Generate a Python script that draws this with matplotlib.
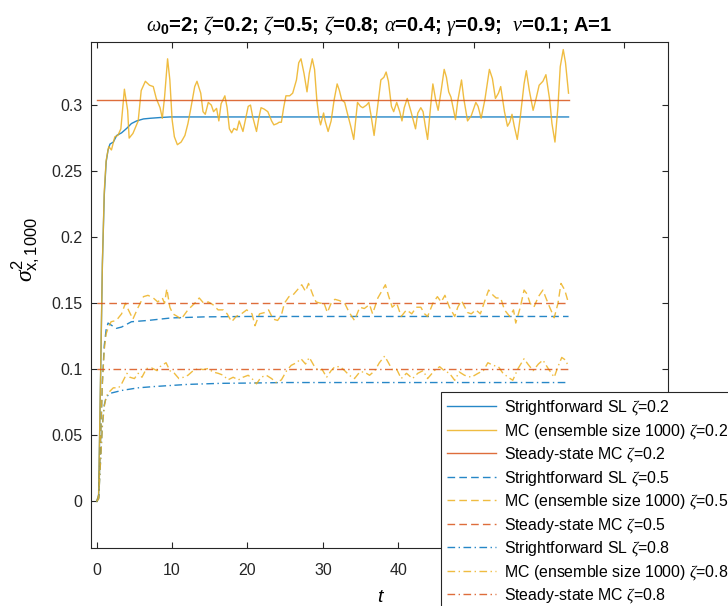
import numpy as np
import matplotlib
matplotlib.use("Agg")
import matplotlib.pyplot as plt

plt.rcParams["font.family"] = ["Liberation Sans", "DejaVu Sans"]
plt.rcParams["mathtext.fontset"] = "custom"
plt.rcParams["mathtext.rm"] = "Liberation Sans"
plt.rcParams["mathtext.it"] = "Liberation Serif:italic"
plt.rcParams["mathtext.bf"] = "Liberation Sans:bold"

# ---- datos ----
T_END = 62.6

# zeta = 0.2
t_sl02 = [0, 0.25, 0.5, 0.75, 1.0, 1.25, 1.5, 1.76, 2.2, 2.65, 3.3, 4.0, 4.6, 5.3, 6.2, 7.1,
          8.5, 9.7, 15, T_END]
v_sl02 = [0, 0.005, 0.09, 0.18, 0.232, 0.257, 0.266, 0.2705, 0.272, 0.277, 0.279, 0.2825,
          0.286, 0.288, 0.2895, 0.290, 0.2906, 0.291, 0.291, 0.291]

t_mc02 = [0, 0.25, 0.5, 0.75, 1.0, 1.25, 1.5, 1.6, 1.95, 2.4, 2.8, 3.2, 3.67, 4.1, 4.3, 4.8, 5.5,
          5.9, 6.45, 7.0, 7.5, 7.9, 8.4, 8.7, 9.0, 9.4, 9.7, 10.0, 10.3, 10.7, 11.2, 11.7, 12.1,
          12.5, 13.0, 13.3, 13.8, 14.1, 14.4, 14.8, 15.2, 15.5, 15.9, 16.2, 16.5, 17.0, 17.3,
          17.6, 17.9, 18.2, 18.6, 18.9, 19.4, 19.7, 20.1, 20.4, 20.7, 21.2, 21.5, 21.8, 22.2,
          22.7, 23.2, 23.5, 23.95, 24.2, 24.5, 24.8, 25.1, 25.6, 26.0, 26.5, 26.8, 27.1, 27.5,
          27.9, 28.2, 28.6, 28.9, 29.2, 29.5, 29.7, 30.1, 30.3, 30.7, 31.1, 31.5, 31.9, 32.2,
          32.5, 32.9, 33.2, 33.7, 34.1, 34.4, 34.6, 35.0, 35.3, 35.8, 36.1, 36.4, 36.8, 37.1,
          37.4, 37.7, 38.1, 38.4, 38.7, 39.1, 39.4, 39.8, 40.2, 40.5, 40.8, 41.2, 41.7, 42.3,
          42.6, 43.0, 43.3, 43.6, 43.9, 44.3, 44.6, 45.0, 45.3, 45.7, 46.1, 46.4, 46.7, 47.0,
          47.6, 47.9, 48.4, 48.7, 49.2, 49.7, 50.3, 50.6, 51.0, 51.5, 52.1, 52.5, 52.9, 53.3,
          53.6, 54.1, 54.5, 54.8, 55.1, 55.4, 55.8, 56.2, 56.7, 57.0, 57.4, 57.9, 58.3, 58.7,
          59.2, 59.6, 60.1, 60.4, 60.8, 61.2, 61.5, 61.9, 62.2, 62.6]
v_mc02 = [0, 0.005, 0.09, 0.18, 0.235, 0.258, 0.266, 0.2686, 0.266, 0.276, 0.277, 0.282, 0.312,
          0.296, 0.275, 0.2785, 0.288, 0.311, 0.318, 0.315, 0.314, 0.305, 0.298, 0.290, 0.306,
          0.335, 0.319, 0.289, 0.276, 0.270, 0.272, 0.277, 0.286, 0.298, 0.314, 0.318, 0.309,
          0.295, 0.293, 0.302, 0.300, 0.295, 0.2975, 0.288, 0.301, 0.307, 0.298, 0.282, 0.279,
          0.2823, 0.281, 0.288, 0.280, 0.288, 0.299, 0.300, 0.291, 0.280, 0.290, 0.298, 0.297,
          0.295, 0.288, 0.285, 0.286, 0.287, 0.287, 0.298, 0.307, 0.307, 0.309, 0.319, 0.332,
          0.335, 0.324, 0.310, 0.324, 0.335, 0.327, 0.304, 0.290, 0.285, 0.294, 0.288, 0.280,
          0.288, 0.304, 0.316, 0.311, 0.304, 0.302, 0.295, 0.284, 0.274, 0.291, 0.302, 0.299,
          0.298, 0.300, 0.302, 0.292, 0.277, 0.291, 0.305, 0.319, 0.321, 0.325, 0.318, 0.299,
          0.295, 0.302, 0.295, 0.288, 0.298, 0.305, 0.295, 0.282, 0.294, 0.298, 0.295, 0.284,
          0.274, 0.299, 0.316, 0.303, 0.296, 0.311, 0.327, 0.321, 0.310, 0.306, 0.289, 0.303,
          0.319, 0.305, 0.288, 0.292, 0.302, 0.299, 0.290, 0.304, 0.327, 0.320, 0.305, 0.309,
          0.314, 0.295, 0.284, 0.287, 0.293, 0.284, 0.274, 0.291, 0.316, 0.326, 0.311, 0.296,
          0.305, 0.315, 0.318, 0.323, 0.304, 0.286, 0.272, 0.299, 0.329, 0.342, 0.332, 0.309]

ss02 = 0.304

# zeta = 0.5
t_sl05 = [0, 0.25, 0.5, 0.75, 1.0, 1.25, 1.5, 2.6, 3.3, 4.6, 6.8, 9.9, 14.3, 20, T_END]
v_sl05 = [0, 0.003, 0.045, 0.09, 0.118, 0.13, 0.135, 0.131, 0.132, 0.136, 0.137, 0.1389,
          0.1397, 0.140, 0.140]

t_mc05 = [0, 0.25, 0.5, 0.75, 1.0, 1.25, 1.5, 1.9, 2.6, 3.3, 3.8, 4.2, 4.8, 5.5, 6.2, 6.8, 7.5,
          8.1, 8.7, 9.0, 9.3, 9.7, 10.1, 10.7, 11.2, 12.1, 13.0, 13.6, 14.2, 14.8, 15.4, 16.1,
          16.8, 17.3, 17.9, 18.5, 19.2, 19.9, 20.6, 21.0, 21.6, 22.3, 22.8, 23.4, 24.0, 24.5,
          24.9, 25.5, 26.0, 26.6, 27.2, 27.7, 28.1, 28.7, 29.1, 29.7, 30.1, 30.6, 31.1, 31.6,
          32.2, 32.9, 33.5, 34.2, 34.9, 35.5, 36.2, 36.6, 37.3, 37.9, 38.3, 38.7, 39.2, 39.8,
          40.4, 41.1, 41.8, 42.4, 43.0, 43.5, 43.9, 44.6, 45.2, 45.7, 46.2, 46.8, 47.5, 47.9,
          48.4, 49.2, 49.7, 50.3, 50.9, 51.5, 52.0, 52.6, 53.0, 53.6, 54.1, 54.8, 55.3, 55.6,
          56.2, 56.7, 57.1, 57.5, 58.0, 58.6, 59.2, 59.6, 60.1, 60.7, 61.2, 61.6, 62.1, 62.6]
v_mc05 = [0, 0.003, 0.045, 0.09, 0.115, 0.127, 0.131, 0.136, 0.137, 0.142, 0.150, 0.145, 0.138,
          0.147, 0.155, 0.156, 0.154, 0.151, 0.154, 0.150, 0.161, 0.147, 0.142, 0.140, 0.138,
          0.145, 0.150, 0.154, 0.150, 0.151, 0.149, 0.145, 0.145, 0.142, 0.136, 0.140, 0.142,
          0.145, 0.142, 0.133, 0.142, 0.143, 0.145, 0.138, 0.137, 0.141, 0.150, 0.155, 0.156,
          0.160, 0.164, 0.159, 0.165, 0.156, 0.151, 0.150, 0.151, 0.143, 0.150, 0.153, 0.152,
          0.150, 0.143, 0.137, 0.147, 0.146, 0.149, 0.142, 0.154, 0.160, 0.164, 0.156, 0.147,
          0.150, 0.140, 0.145, 0.142, 0.147, 0.147, 0.142, 0.140, 0.150, 0.155, 0.151, 0.156,
          0.147, 0.140, 0.147, 0.152, 0.143, 0.142, 0.145, 0.142, 0.152, 0.160, 0.156, 0.154,
          0.154, 0.145, 0.140, 0.145, 0.135, 0.147, 0.160, 0.157, 0.150, 0.147, 0.155, 0.160,
          0.154, 0.147, 0.139, 0.150, 0.165, 0.160, 0.150]

ss05 = 0.15

# zeta = 0.8
t_sl08 = [0, 0.25, 0.5, 0.75, 1.0, 1.25, 1.5, 1.9, 3.3, 5.5, 7.7, 12.1, 16.5, 20.1, 25, T_END]
v_sl08 = [0, 0.002, 0.03, 0.058, 0.073, 0.079, 0.0803, 0.082, 0.084, 0.086, 0.087, 0.0886,
          0.0894, 0.0896, 0.09, 0.09]

t_mc08 = [0, 0.25, 0.5, 0.75, 1.0, 1.25, 1.5, 2.2, 2.9, 3.3, 4.0, 4.4, 5.0, 5.5, 6.0, 6.6, 7.3,
          8.0, 8.4, 9.2, 9.7, 10.3, 10.9, 11.5, 12.1, 12.8, 13.5, 14.1, 14.8, 15.4, 16.1, 16.8,
          17.4, 18.1, 18.8, 19.4, 20.1, 20.6, 21.2, 21.8, 22.5, 23.2, 23.8, 24.5, 25.2, 25.8,
          26.5, 27.1, 27.7, 28.2, 28.8, 29.4, 29.9, 30.5, 31.1, 31.6, 32.3, 32.9, 33.5, 34.2,
          34.9, 35.5, 36.2, 36.9, 37.5, 38.2, 38.7, 39.2, 39.8, 40.4, 41.1, 41.9, 42.6, 43.3,
          43.9, 44.8, 45.5, 46.1, 46.8, 47.5, 48.1, 48.8, 49.7, 50.6, 51.3, 51.9, 52.6, 53.3,
          53.9, 54.6, 55.2, 55.9, 56.7, 57.2, 57.9, 58.6, 59.2, 59.9, 60.7, 61.2, 61.7, 62.2, 62.6]
v_mc08 = [0, 0.002, 0.03, 0.057, 0.072, 0.079, 0.082, 0.086, 0.086, 0.089, 0.097, 0.094, 0.093,
          0.097, 0.094, 0.1006, 0.101, 0.099, 0.102, 0.105, 0.099, 0.097, 0.093, 0.094, 0.0955,
          0.099, 0.1006, 0.0998, 0.1006, 0.098, 0.097, 0.0955, 0.092, 0.094, 0.092, 0.094,
          0.0955, 0.093, 0.089, 0.094, 0.0955, 0.093, 0.090, 0.092, 0.099, 0.103, 0.105, 0.108,
          0.104, 0.109, 0.103, 0.099, 0.100, 0.094, 0.099, 0.102, 0.102, 0.099, 0.0955, 0.093,
          0.098, 0.098, 0.0955, 0.099, 0.105, 0.110, 0.105, 0.0998, 0.100, 0.093, 0.097, 0.093,
          0.097, 0.099, 0.093, 0.099, 0.102, 0.099, 0.097, 0.0917, 0.098, 0.0955, 0.094, 0.097,
          0.099, 0.105, 0.103, 0.102, 0.097, 0.094, 0.0917, 0.1006, 0.108, 0.104, 0.099, 0.104,
          0.107, 0.1006, 0.094, 0.102, 0.109, 0.107, 0.102]

ss08 = 0.1

x_ticks = [0, 10, 20, 30, 40, 50, 60, 70]
y_ticks = [0, 0.05, 0.1, 0.15, 0.2, 0.25, 0.3]
y_tick_labels = ["0", "0.05", "0.1", "0.15", "0.2", "0.25", "0.3"]

# ---- colores estilo MATLAB ----
AZUL = "#0072BD"
NARANJA = "#D95319"
AMARILLO = "#EDB120"

DASH = (5.5, 3.0)
DASHDOT = (5.5, 2.5, 1.0, 2.5)

fig = plt.figure(figsize=(7.28, 6.06), dpi=100)
ax = fig.add_axes([0.1246, 0.0962, 0.7930, 0.8340])

series = [
    (t_sl02, v_sl02, AZUL, None, r"Strightforward SL $\zeta$=0.2"),
    (t_mc02, v_mc02, AMARILLO, None, r"MC (ensemble size 1000) $\zeta$=0.2"),
    ([0, T_END], [ss02, ss02], NARANJA, None, r"Steady-state MC $\zeta$=0.2"),
    (t_sl05, v_sl05, AZUL, DASH, r"Strightforward SL $\zeta$=0.5"),
    (t_mc05, v_mc05, AMARILLO, DASH, r"MC (ensemble size 1000) $\zeta$=0.5"),
    ([0, T_END], [ss05, ss05], NARANJA, DASH, r"Steady-state MC $\zeta$=0.5"),
    (t_sl08, v_sl08, AZUL, DASHDOT, r"Strightforward SL $\zeta$=0.8"),
    (t_mc08, v_mc08, AMARILLO, DASHDOT, r"MC (ensemble size 1000) $\zeta$=0.8"),
    ([0, T_END], [ss08, ss08], NARANJA, DASHDOT, r"Steady-state MC $\zeta$=0.8"),
]

for t, v, col, dash, lab in series:
    ln, = ax.plot(t, v, color=col, lw=1.0, label=lab, alpha=0.85)
    if dash is not None:
        ln.set_dashes(dash)

ax.set_xlim(-0.8, 75.8)
ax.set_ylim(-0.035, 0.3475)
ax.set_xticks(x_ticks)
ax.set_yticks(y_ticks)
ax.set_yticklabels(y_tick_labels)
ax.tick_params(direction="in", top=True, right=True, labelsize=11.5,
               colors="#262626", length=4, width=0.8)
ax.tick_params(axis="x", pad=11)
ax.tick_params(axis="y", pad=6)
for s in ax.spines.values():
    s.set_color("#262626")
    s.set_linewidth(0.8)

ax.set_xlabel("t", fontsize=14, fontstyle="italic", labelpad=8)
ax.set_ylabel(r"$\sigma^2_{\mathrm{x,1000}}$", fontsize=17)
ax.yaxis.set_label_coords(-0.085, 0.59)
ax.set_title(r"$\omega_\mathbf{0}$=2; $\zeta$=0.2; $\zeta$=0.5; $\zeta$=0.8; "
             r"$\alpha$=0.4; $\gamma$=0.9;  $\nu$=0.1; A=1",
             fontsize=14.5, fontweight="bold", pad=8)

leg = ax.legend(loc="upper left", bbox_to_anchor=(0.6058, 0.3531),
                bbox_transform=fig.transFigure, fontsize=11.4, frameon=True,
                fancybox=False, framealpha=1, edgecolor="#262626",
                handlelength=3.1, handletextpad=0.5, labelspacing=0.29,
                borderpad=0.4, borderaxespad=0)
leg.get_frame().set_linewidth(0.8)

fig.savefig("out.png", dpi=100)
